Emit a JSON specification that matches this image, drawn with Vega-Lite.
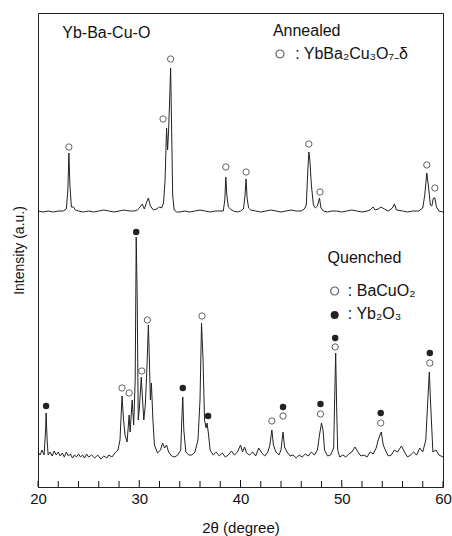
{
  "$schema": "https://vega.github.io/schema/vega-lite/v6.json",
  "autosize": "none",
  "width": 405,
  "height": 474,
  "padding": {"left": 38, "top": 13, "right": 9, "bottom": 49},
  "config": {
    "font": "Liberation Sans",
    "view": {"stroke": "#222", "strokeWidth": 1},
    "background": "white"
  },
  "datasets": {
    "trace": [
      {"s":"A","x":20.0,"y":276},{"s":"A","x":20.5,"y":275},{"s":"A","x":21.0,"y":276},{"s":"A","x":21.5,"y":275},{"s":"A","x":22.0,"y":276},{"s":"A","x":22.5,"y":276},{"s":"A","x":22.8,"y":278},{"s":"A","x":22.95,"y":297},{"s":"A","x":23.05,"y":334},{"s":"A","x":23.15,"y":302},{"s":"A","x":23.3,"y":280},{"s":"A","x":23.5,"y":280},{"s":"A","x":23.7,"y":277},{"s":"A","x":24.0,"y":276},{"s":"A","x":24.5,"y":275},{"s":"A","x":25.0,"y":276},{"s":"A","x":25.5,"y":275},{"s":"A","x":26.0,"y":276},{"s":"A","x":26.5,"y":277},{"s":"A","x":27.0,"y":276},{"s":"A","x":27.5,"y":275},{"s":"A","x":28.0,"y":276},{"s":"A","x":28.5,"y":277},{"s":"A","x":29.0,"y":276},{"s":"A","x":29.5,"y":276},{"s":"A","x":29.8,"y":277},{"s":"A","x":30.0,"y":279},{"s":"A","x":30.3,"y":283},{"s":"A","x":30.5,"y":278},{"s":"A","x":30.7,"y":284},{"s":"A","x":30.9,"y":289},{"s":"A","x":31.1,"y":281},{"s":"A","x":31.4,"y":277},{"s":"A","x":31.7,"y":278},{"s":"A","x":32.0,"y":280},{"s":"A","x":32.2,"y":279},{"s":"A","x":32.4,"y":284},{"s":"A","x":32.55,"y":307},{"s":"A","x":32.7,"y":359},{"s":"A","x":32.8,"y":337},{"s":"A","x":32.9,"y":357},{"s":"A","x":33.0,"y":387},{"s":"A","x":33.1,"y":419},{"s":"A","x":33.2,"y":357},{"s":"A","x":33.3,"y":292},{"s":"A","x":33.45,"y":277},{"s":"A","x":33.7,"y":275},{"s":"A","x":34.0,"y":275},{"s":"A","x":34.5,"y":276},{"s":"A","x":35.0,"y":275},{"s":"A","x":35.5,"y":276},{"s":"A","x":36.0,"y":277},{"s":"A","x":36.5,"y":276},{"s":"A","x":37.0,"y":275},{"s":"A","x":37.5,"y":276},{"s":"A","x":38.0,"y":276},{"s":"A","x":38.3,"y":276},{"s":"A","x":38.45,"y":287},{"s":"A","x":38.55,"y":310},{"s":"A","x":38.65,"y":292},{"s":"A","x":38.8,"y":280},{"s":"A","x":39.0,"y":278},{"s":"A","x":39.3,"y":276},{"s":"A","x":39.7,"y":275},{"s":"A","x":40.0,"y":276},{"s":"A","x":40.3,"y":278},{"s":"A","x":40.45,"y":292},{"s":"A","x":40.55,"y":308},{"s":"A","x":40.65,"y":289},{"s":"A","x":40.8,"y":279},{"s":"A","x":41.0,"y":277},{"s":"A","x":41.5,"y":276},{"s":"A","x":42.0,"y":275},{"s":"A","x":42.5,"y":276},{"s":"A","x":43.0,"y":277},{"s":"A","x":43.5,"y":276},{"s":"A","x":44.0,"y":275},{"s":"A","x":44.5,"y":276},{"s":"A","x":45.0,"y":277},{"s":"A","x":45.5,"y":276},{"s":"A","x":46.0,"y":276},{"s":"A","x":46.3,"y":278},{"s":"A","x":46.5,"y":282},{"s":"A","x":46.65,"y":317},{"s":"A","x":46.75,"y":335},{"s":"A","x":46.85,"y":327},{"s":"A","x":47.0,"y":302},{"s":"A","x":47.2,"y":282},{"s":"A","x":47.4,"y":279},{"s":"A","x":47.6,"y":281},{"s":"A","x":47.8,"y":289},{"s":"A","x":47.95,"y":279},{"s":"A","x":48.2,"y":276},{"s":"A","x":48.6,"y":275},{"s":"A","x":49.0,"y":276},{"s":"A","x":49.5,"y":276},{"s":"A","x":50.0,"y":275},{"s":"A","x":50.5,"y":276},{"s":"A","x":51.0,"y":277},{"s":"A","x":51.5,"y":276},{"s":"A","x":52.0,"y":275},{"s":"A","x":52.5,"y":276},{"s":"A","x":52.8,"y":277},{"s":"A","x":53.1,"y":280},{"s":"A","x":53.3,"y":277},{"s":"A","x":53.6,"y":278},{"s":"A","x":53.9,"y":280},{"s":"A","x":54.2,"y":278},{"s":"A","x":54.6,"y":276},{"s":"A","x":55.0,"y":279},{"s":"A","x":55.2,"y":283},{"s":"A","x":55.4,"y":277},{"s":"A","x":56.0,"y":276},{"s":"A","x":56.5,"y":275},{"s":"A","x":57.0,"y":276},{"s":"A","x":57.6,"y":276},{"s":"A","x":58.0,"y":279},{"s":"A","x":58.2,"y":292},{"s":"A","x":58.4,"y":314},{"s":"A","x":58.55,"y":302},{"s":"A","x":58.75,"y":282},{"s":"A","x":58.9,"y":281},{"s":"A","x":59.05,"y":289},{"s":"A","x":59.2,"y":289},{"s":"A","x":59.35,"y":280},{"s":"A","x":59.6,"y":276},{"s":"A","x":60.0,"y":275},
      {"s":"Q","x":20.0,"y":35},{"s":"Q","x":20.2,"y":32},{"s":"Q","x":20.4,"y":37},{"s":"Q","x":20.6,"y":32},{"s":"Q","x":20.75,"y":57},{"s":"Q","x":20.8,"y":74},{"s":"Q","x":20.9,"y":47},{"s":"Q","x":21.0,"y":32},{"s":"Q","x":21.2,"y":35},{"s":"Q","x":21.4,"y":31},{"s":"Q","x":21.6,"y":36},{"s":"Q","x":21.8,"y":32},{"s":"Q","x":22.0,"y":35},{"s":"Q","x":22.2,"y":31},{"s":"Q","x":22.4,"y":34},{"s":"Q","x":22.6,"y":30},{"s":"Q","x":22.8,"y":35},{"s":"Q","x":23.0,"y":31},{"s":"Q","x":23.2,"y":33},{"s":"Q","x":23.4,"y":29},{"s":"Q","x":23.6,"y":32},{"s":"Q","x":23.8,"y":30},{"s":"Q","x":24.0,"y":33},{"s":"Q","x":24.2,"y":30},{"s":"Q","x":24.4,"y":32},{"s":"Q","x":24.6,"y":29},{"s":"Q","x":24.8,"y":33},{"s":"Q","x":25.0,"y":30},{"s":"Q","x":25.3,"y":32},{"s":"Q","x":25.6,"y":29},{"s":"Q","x":25.9,"y":32},{"s":"Q","x":26.2,"y":28},{"s":"Q","x":26.5,"y":31},{"s":"Q","x":26.8,"y":29},{"s":"Q","x":27.0,"y":32},{"s":"Q","x":27.3,"y":30},{"s":"Q","x":27.6,"y":34},{"s":"Q","x":27.9,"y":37},{"s":"Q","x":28.1,"y":47},{"s":"Q","x":28.3,"y":91},{"s":"Q","x":28.45,"y":67},{"s":"Q","x":28.6,"y":52},{"s":"Q","x":28.8,"y":45},{"s":"Q","x":29.0,"y":72},{"s":"Q","x":29.1,"y":55},{"s":"Q","x":29.3,"y":87},{"s":"Q","x":29.45,"y":62},{"s":"Q","x":29.6,"y":107},{"s":"Q","x":29.7,"y":250},{"s":"Q","x":29.8,"y":187},{"s":"Q","x":29.9,"y":67},{"s":"Q","x":30.0,"y":77},{"s":"Q","x":30.2,"y":110},{"s":"Q","x":30.3,"y":92},{"s":"Q","x":30.45,"y":67},{"s":"Q","x":30.6,"y":82},{"s":"Q","x":30.75,"y":117},{"s":"Q","x":30.9,"y":162},{"s":"Q","x":31.0,"y":127},{"s":"Q","x":31.1,"y":87},{"s":"Q","x":31.2,"y":104},{"s":"Q","x":31.35,"y":67},{"s":"Q","x":31.5,"y":42},{"s":"Q","x":31.8,"y":34},{"s":"Q","x":32.1,"y":37},{"s":"Q","x":32.3,"y":44},{"s":"Q","x":32.5,"y":39},{"s":"Q","x":32.7,"y":42},{"s":"Q","x":32.9,"y":35},{"s":"Q","x":33.2,"y":31},{"s":"Q","x":33.5,"y":30},{"s":"Q","x":33.8,"y":32},{"s":"Q","x":34.1,"y":37},{"s":"Q","x":34.2,"y":67},{"s":"Q","x":34.3,"y":90},{"s":"Q","x":34.4,"y":57},{"s":"Q","x":34.6,"y":35},{"s":"Q","x":34.9,"y":32},{"s":"Q","x":35.2,"y":32},{"s":"Q","x":35.5,"y":35},{"s":"Q","x":35.8,"y":47},{"s":"Q","x":36.0,"y":87},{"s":"Q","x":36.15,"y":164},{"s":"Q","x":36.3,"y":127},{"s":"Q","x":36.45,"y":67},{"s":"Q","x":36.6,"y":59},{"s":"Q","x":36.7,"y":64},{"s":"Q","x":36.85,"y":52},{"s":"Q","x":37.0,"y":37},{"s":"Q","x":37.3,"y":32},{"s":"Q","x":37.6,"y":35},{"s":"Q","x":37.9,"y":31},{"s":"Q","x":38.2,"y":34},{"s":"Q","x":38.5,"y":30},{"s":"Q","x":38.8,"y":32},{"s":"Q","x":39.1,"y":36},{"s":"Q","x":39.4,"y":32},{"s":"Q","x":39.7,"y":35},{"s":"Q","x":40.0,"y":42},{"s":"Q","x":40.2,"y":35},{"s":"Q","x":40.4,"y":40},{"s":"Q","x":40.6,"y":34},{"s":"Q","x":40.9,"y":32},{"s":"Q","x":41.2,"y":35},{"s":"Q","x":41.5,"y":31},{"s":"Q","x":41.8,"y":39},{"s":"Q","x":42.1,"y":34},{"s":"Q","x":42.4,"y":31},{"s":"Q","x":42.7,"y":35},{"s":"Q","x":42.9,"y":42},{"s":"Q","x":43.1,"y":57},{"s":"Q","x":43.25,"y":42},{"s":"Q","x":43.5,"y":35},{"s":"Q","x":43.8,"y":32},{"s":"Q","x":44.0,"y":37},{"s":"Q","x":44.2,"y":55},{"s":"Q","x":44.35,"y":40},{"s":"Q","x":44.6,"y":35},{"s":"Q","x":44.9,"y":31},{"s":"Q","x":45.2,"y":32},{"s":"Q","x":45.5,"y":29},{"s":"Q","x":45.8,"y":32},{"s":"Q","x":46.1,"y":30},{"s":"Q","x":46.4,"y":33},{"s":"Q","x":46.7,"y":31},{"s":"Q","x":47.0,"y":35},{"s":"Q","x":47.3,"y":32},{"s":"Q","x":47.6,"y":37},{"s":"Q","x":47.8,"y":52},{"s":"Q","x":48.0,"y":64},{"s":"Q","x":48.15,"y":57},{"s":"Q","x":48.3,"y":37},{"s":"Q","x":48.6,"y":31},{"s":"Q","x":48.9,"y":32},{"s":"Q","x":49.2,"y":39},{"s":"Q","x":49.3,"y":87},{"s":"Q","x":49.4,"y":134},{"s":"Q","x":49.5,"y":77},{"s":"Q","x":49.6,"y":37},{"s":"Q","x":49.8,"y":30},{"s":"Q","x":50.1,"y":32},{"s":"Q","x":50.4,"y":30},{"s":"Q","x":50.7,"y":33},{"s":"Q","x":51.0,"y":35},{"s":"Q","x":51.3,"y":40},{"s":"Q","x":51.6,"y":35},{"s":"Q","x":51.9,"y":31},{"s":"Q","x":52.2,"y":32},{"s":"Q","x":52.5,"y":30},{"s":"Q","x":52.8,"y":35},{"s":"Q","x":53.1,"y":33},{"s":"Q","x":53.4,"y":39},{"s":"Q","x":53.6,"y":47},{"s":"Q","x":53.9,"y":55},{"s":"Q","x":54.1,"y":42},{"s":"Q","x":54.3,"y":37},{"s":"Q","x":54.6,"y":31},{"s":"Q","x":54.9,"y":32},{"s":"Q","x":55.2,"y":37},{"s":"Q","x":55.5,"y":35},{"s":"Q","x":55.9,"y":41},{"s":"Q","x":56.2,"y":35},{"s":"Q","x":56.5,"y":30},{"s":"Q","x":56.8,"y":32},{"s":"Q","x":57.1,"y":35},{"s":"Q","x":57.4,"y":32},{"s":"Q","x":57.7,"y":39},{"s":"Q","x":58.0,"y":35},{"s":"Q","x":58.3,"y":47},{"s":"Q","x":58.5,"y":87},{"s":"Q","x":58.65,"y":115},{"s":"Q","x":58.75,"y":89},{"s":"Q","x":58.9,"y":57},{"s":"Q","x":59.0,"y":35},{"s":"Q","x":59.3,"y":37},{"s":"Q","x":59.6,"y":32},{"s":"Q","x":60.0,"y":30}
    ],
    "markers": [
      {"k":"open","x":23.05,"y":340},{"k":"open","x":32.35,"y":368},{"k":"open","x":33.1,"y":428},{"k":"open","x":38.55,"y":320},{"k":"open","x":40.55,"y":315},{"k":"open","x":46.75,"y":343},{"k":"open","x":47.85,"y":295},{"k":"open","x":58.4,"y":322},{"k":"open","x":59.2,"y":299},
      {"k":"filled","x":20.8,"y":81},{"k":"open","x":28.3,"y":99},{"k":"open","x":29.0,"y":94},{"k":"filled","x":29.7,"y":255},{"k":"open","x":30.25,"y":116},{"k":"open","x":30.8,"y":167},{"k":"filled","x":34.3,"y":99},{"k":"open","x":36.2,"y":171},{"k":"filled","x":36.8,"y":71},{"k":"open","x":43.1,"y":66},{"k":"open","x":44.2,"y":71},{"k":"filled","x":44.2,"y":80},{"k":"open","x":47.9,"y":73},{"k":"filled","x":47.9,"y":83},{"k":"open","x":49.35,"y":140},{"k":"filled","x":49.35,"y":149},{"k":"open","x":53.85,"y":64},{"k":"filled","x":53.85,"y":74},{"k":"open","x":58.7,"y":124},{"k":"filled","x":58.7,"y":134}
    ],
    "legend": [
      {"k":"open","x":43.9,"y":433},
      {"k":"open","x":49.3,"y":196},
      {"k":"filled","x":49.3,"y":172}
    ],
    "labels": [
      {"x":22.4,"y":454,"t":"Yb-Ba-Cu-O"},
      {"x":43.2,"y":456,"t":"Annealed"},
      {"x":45.4,"y":433,"t":": YbBa₂Cu₃O₇₋δ"},
      {"x":48.6,"y":229,"t":"Quenched"},
      {"x":50.6,"y":196,"t":": BaCuO₂"},
      {"x":50.6,"y":173,"t":": Yb₂O₃"}
    ],
    "tickpos": [
      {"x":20,"lo":0,"hi":6},{"x":22,"lo":0,"hi":6},{"x":24,"lo":0,"hi":6},{"x":26,"lo":0,"hi":6},{"x":28,"lo":0,"hi":6},{"x":30,"lo":0,"hi":7},{"x":32,"lo":0,"hi":6},{"x":34,"lo":0,"hi":6},{"x":36,"lo":0,"hi":6},{"x":38,"lo":0,"hi":6},{"x":40,"lo":0,"hi":7},{"x":42,"lo":0,"hi":6},{"x":44,"lo":0,"hi":6},{"x":46,"lo":0,"hi":6},{"x":48,"lo":0,"hi":6},{"x":50,"lo":0,"hi":7},{"x":52,"lo":0,"hi":6},{"x":54,"lo":0,"hi":6},{"x":56,"lo":0,"hi":6},{"x":58,"lo":0,"hi":6},{"x":60,"lo":0,"hi":6}
    ]
  },
  "layer": [
    {
      "data": {"name": "trace"},
      "mark": {"type": "line", "color": "#222", "strokeWidth": 1},
      "encoding": {
        "x": {"field": "x", "type": "quantitative", "scale": {"domain": [20, 60], "nice": false},
          "axis": {"title": "2θ (degree)", "values": [20,30,40,50,60],
            "labelOverlap": false, "labelFlush": false, "ticks": false,
            "labelPadding": 4, "labelFontSize": 15, "labelColor": "#111",
            "titleFontSize": 15, "titleFontWeight": "normal", "titleColor": "#111", "titlePadding": 14,
            "grid": false, "domainColor": "#222"}},
        "y": {"field": "y", "type": "quantitative", "scale": {"domain": [0, 474], "nice": false, "zero": false},
          "axis": {"title": "Intensity (a.u.)", "labels": false, "ticks": false, "grid": false, "domainColor": "#222",
            "titleFontSize": 14, "titleFontWeight": "normal", "titleColor": "#111", "titlePadding": 12}},
        "detail": {"field": "s"}
      }
    },
    {
      "data": {"name": "tickpos"},
      "mark": {"type": "rule", "color": "#111", "strokeWidth": 1},
      "encoding": {
        "x": {"field": "x", "type": "quantitative"},
        "y": {"field": "lo", "type": "quantitative"},
        "y2": {"field": "hi"}
      }
    },
    {
      "data": {"name": "markers"},
      "transform": [{"filter": "datum.k === 'open'"}],
      "mark": {"type": "point", "shape": "circle", "filled": false, "stroke": "#222", "strokeWidth": 1, "size": 40},
      "encoding": {
        "x": {"field": "x", "type": "quantitative"},
        "y": {"field": "y", "type": "quantitative"}
      }
    },
    {
      "data": {"name": "markers"},
      "transform": [{"filter": "datum.k === 'filled'"}],
      "mark": {"type": "point", "shape": "circle", "filled": true, "fill": "#222", "opacity": 1, "size": 42},
      "encoding": {
        "x": {"field": "x", "type": "quantitative"},
        "y": {"field": "y", "type": "quantitative"}
      }
    },
    {
      "data": {"name": "legend"},
      "transform": [{"filter": "datum.k === 'open'"}],
      "mark": {"type": "point", "shape": "circle", "filled": false, "stroke": "#222", "strokeWidth": 1.2, "size": 64},
      "encoding": {
        "x": {"field": "x", "type": "quantitative"},
        "y": {"field": "y", "type": "quantitative"}
      }
    },
    {
      "data": {"name": "legend"},
      "transform": [{"filter": "datum.k === 'filled'"}],
      "mark": {"type": "point", "shape": "circle", "filled": true, "fill": "#222", "opacity": 1, "size": 64},
      "encoding": {
        "x": {"field": "x", "type": "quantitative"},
        "y": {"field": "y", "type": "quantitative"}
      }
    },
    {
      "data": {"name": "labels"},
      "mark": {"type": "text", "align": "left", "baseline": "middle", "fontSize": 16, "color": "#111"},
      "encoding": {
        "x": {"field": "x", "type": "quantitative"},
        "y": {"field": "y", "type": "quantitative"},
        "text": {"field": "t"}
      }
    }
  ]
}
